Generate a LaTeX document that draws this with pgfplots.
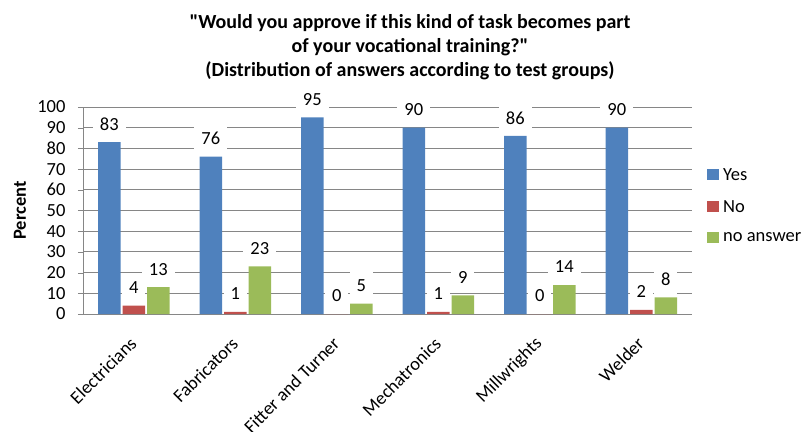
\documentclass[border=0pt]{standalone}
\usepackage{pgfplots}
\pgfplotsset{compat=1.18}
\usepackage{fontspec}
\setmainfont{Carlito}[Ligatures=TeXOff]
\definecolor{cyes}{RGB}{79,129,189}
\definecolor{cno}{RGB}{192,80,77}
\definecolor{cna}{RGB}{155,187,89}
\definecolor{gridc}{RGB}{134,134,134}
\newcommand\f{\fontsize{18.5}{22}\selectfont}
\begin{document}
\begin{tikzpicture}[x=1pt,y=1pt]
\useasboundingbox (0,0) rectangle (808,431);
\node[align=center, font=\fontsize{20}{24}\selectfont\bfseries] at (410,384)
  {"Would you approve if this kind of task becomes part\\ of your vocational training?"\\(Distribution of answers according to test groups)};
\begin{axis}[
  at={(83pt,117pt)}, anchor=south west,
  scale only axis, width=609pt, height=207pt,
  /pgf/number format/assume math mode=true,
  ybar, bar width=22.5pt,
  xmin=-0.5, xmax=5.5, ymin=0, ymax=100,
  ytick={0,10,...,100},
  xtick={0,1,2,3,4,5},
  xticklabels={Electricians,Fabricators,Fitter and Turner,Mechatronics,Millwrights,Welder},
  xtick style={draw=none},
  axis x line*=bottom, axis y line*=left,
  axis line style={-, draw=gridc},
  ymajorgrids, grid style={draw=gridc, line width=0.8pt},
  ytick style={draw=gridc},
  tick align=outside, major tick length=5pt,
  tick label style={font=\f},
  yticklabel style={xshift=-9pt},
  xticklabel style={xshift=2pt, yshift=-19pt, anchor=east, rotate=45},
  ylabel={\bfseries Percent},
  ylabel style={font=\f, at={(rel axis cs:-0.1034,0.5)}, anchor=center},
  nodes near coords,
  every node near coord/.append style={font=\f, fill=white, inner xsep=7pt, inner ysep=8pt, anchor=center, yshift=18pt, text=black},
  legend style={at={(1.0197,0.718)}, anchor=north west, draw=none, fill=none, font=\f, row sep=16.5pt, nodes={inner ysep=1pt, inner xsep=4pt, anchor=west}},
  legend image code/.code={\fill[#1] (0pt,-5pt) rectangle (12pt,6pt);},
  legend cell align=left,
]
\addplot[fill=cyes, draw=none] coordinates {(0,83) (1,76) (2,95) (3,90) (4,86) (5,90)};
\addplot[fill=cno, draw=none] coordinates {(0,4) (1,1) (2,0) (3,1) (4,0) (5,2)};
\addplot[fill=cna, draw=none] coordinates {(0,13) (1,23) (2,5) (3,9) (4,14) (5,8)};
\legend{Yes,No,no answer}
\draw[gridc, line width=0.8pt] (rel axis cs:0,1) -- (rel axis cs:1,1);
\end{axis}
\end{tikzpicture}
\end{document}
